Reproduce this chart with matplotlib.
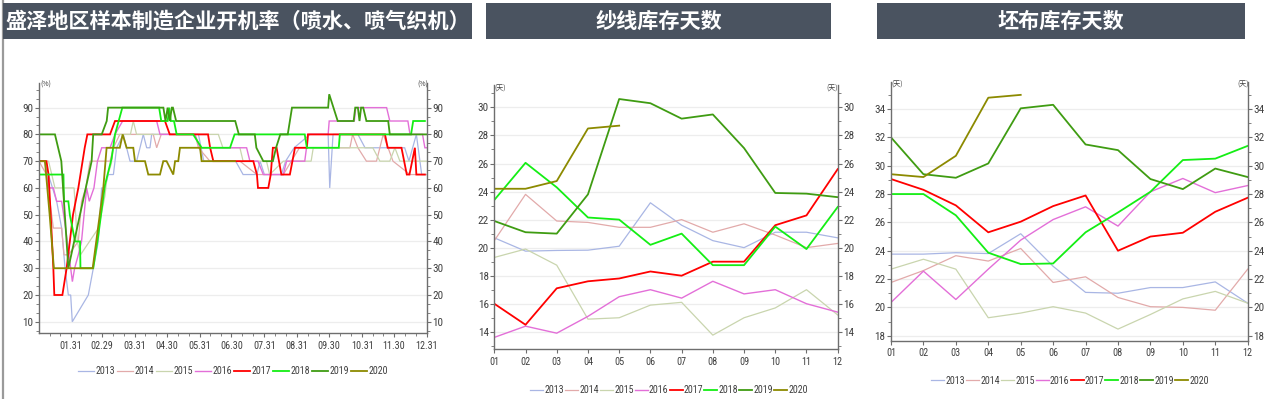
import matplotlib
matplotlib.use("Agg")
import matplotlib.pyplot as plt
import matplotlib.font_manager as fm
from matplotlib.patches import Rectangle
from matplotlib.lines import Line2D
from matplotlib.ticker import AutoMinorLocator, FixedLocator

# ---------------- data ----------------
years = ['2013', '2014', '2015', '2016', '2017', '2018', '2019', '2020']
colors = ['#a9b6e4', '#e2aaaa', '#c9d5ae', '#e36fd8', '#ff0000', '#14ee14', '#3f9c12', '#8c8a00']

# panel 1: operating rate (%), x = day of year (0 = Jan 1)
rate_days_2013 = [0, 5.6, 8.8, 16.6, 21.3, 24.5, 27.6, 29.8, 31.3, 46.4, 51.1, 55.8, 58.9, 62, 65.2, 70, 73, 79.3, 82.4, 85.6,
                  91.8, 95, 98.1, 101.3, 104.4, 106, 150, 155, 185, 192, 205, 208, 212, 228, 232, 240, 255, 272, 273.5,
                  276.6, 300, 306.7, 344, 348, 355, 360, 365]
rate_vals_2013 = [70, 70, 65, 55, 45, 30, 20, 20, 10, 20, 30, 40, 60, 60, 65, 65, 75, 80, 75, 70,
                  70, 75, 80, 75, 75, 80, 80, 70, 70, 65, 65, 70, 65, 65, 70, 75, 80, 80, 60,
                  80, 80, 75, 75, 70, 80, 65, 65]
rate_days_2014 = [0, 7, 13.5, 21.3, 23.5, 27.6, 37, 40, 44, 48, 66.8, 70, 76, 107.5, 110.7, 115, 146.7, 150, 160.8, 189,
                  205, 214, 229.8, 245, 292.5, 295, 300, 308, 317.5, 323.8, 333, 349, 365]
rate_vals_2014 = [70, 65, 45, 45, 35, 35, 40, 55, 60, 70, 70, 75, 80, 80, 75, 80, 80, 75, 70, 70,
                  65, 65, 65, 75, 75, 80, 75, 70, 70, 80, 70, 65, 65]
rate_days_2015 = [0, 9, 15, 33, 36, 39, 56, 62, 64, 68, 71.5, 86, 88.7, 91.8, 168.7, 173, 189, 192, 214, 217,
                  229.8, 256, 258, 314, 320.7, 330, 334.8, 339.5, 365]
rate_vals_2015 = [70, 70, 60, 60, 40, 35, 45, 57, 64, 69, 80, 80, 85, 80, 80, 75, 75, 70, 70, 65,
                  70, 70, 75, 75, 70, 70, 75, 70, 70]
rate_days_2016 = [0, 5.6, 8.8, 13.5, 16.6, 21.3, 25, 31.4, 33.5, 37, 40, 44.8, 47.3, 51.7, 55, 59, 66.8, 71.5, 78.7,
                  110.7, 113.8, 146.7, 151.4, 195.3, 198.4, 206, 211, 229.8, 232.9, 250, 253.3, 272, 273, 296.6,
                  298, 327, 330, 347, 349, 360.8, 363, 365]
rate_vals_2016 = [70, 70, 60, 60, 55, 55, 45, 25, 30, 35, 40, 60, 55, 60, 70, 75, 75, 80, 85,
                  85, 80, 80, 75, 75, 70, 70, 65, 65, 70, 70, 80, 80, 85, 85,
                  90, 90, 85, 85, 80, 80, 75, 75]
rate_days_2017 = [0, 7, 9, 11, 13.5, 14.4, 22, 26, 32, 37, 43, 45.5, 66.8, 71.5, 118.5, 123, 159, 161, 164, 201.6,
                  205, 206, 215.7, 218, 220, 223.5, 228, 236, 240.8, 252, 253, 325.5, 328, 341, 346, 348.5, 353.6,
                  355, 363]
rate_vals_2017 = [70, 70, 65, 50, 30, 20, 20, 30, 50, 60, 75, 80, 80, 85, 85, 80, 80, 75, 70, 70,
                  65, 60, 60, 65, 75, 75, 65, 65, 75, 75, 80, 80, 75, 75, 65, 65, 75,
                  65, 65]
rate_days_2018 = [0, 23, 23.5, 27.6, 29, 33.9, 38.6, 39, 51, 55.7, 62, 68.3, 71.5, 78.4, 113, 115, 121, 122.6, 124,
                  127, 129.5, 145, 153, 179.7, 184, 250, 252, 282, 283, 350, 352, 363]
rate_vals_2018 = [65, 65, 55, 55, 50, 40, 40, 30, 30, 42, 61, 71, 80, 90, 90, 85, 85, 90, 85,
                  85, 80, 80, 75, 75, 80, 80, 75, 75, 80, 80, 85, 85]
rate_days_2019 = [0, 15, 21, 27.6, 49.5, 51, 59, 63.7, 65, 117, 119, 121, 123, 125, 126, 129, 184.6, 188, 203, 204.5,
                  211, 220, 223, 227, 234, 238, 272, 273, 281, 296, 297.5, 300, 301.5, 303, 305, 308, 328.5, 330, 365]
rate_vals_2019 = [80, 80, 70, 30, 70, 80, 80, 85, 90, 90, 85, 90, 85, 90, 90, 85, 85, 80, 80, 75,
                  70, 70, 75, 80, 80, 90, 90, 95, 85, 85, 90, 90, 85, 90, 90, 85, 85, 80, 80]
rate_days_2020 = [0, 5.6, 10, 14, 50.5, 60.5, 63.6, 76, 78.7, 82.4, 88.7, 90.3, 99.7, 102.8, 113.8, 116.9, 120, 126.3,
                  128, 131, 132.6, 151.5, 153, 184.4]
rate_vals_2020 = [70, 70, 50, 30, 30, 60, 75, 75, 80, 75, 75, 70, 70, 65, 65, 70, 70, 65,
                  70, 70, 75, 75, 70, 70]

rate_tick_days = [30, 59, 90, 120, 151, 181, 212, 243, 273, 304, 334, 365]
rate_tick_labels = ['01.31', '02.29', '03.31', '04.30', '05.31', '06.30', '07.31', '08.31', '09.30', '10.31', '11.30', '12.31']

# panel 2 & 3: monthly inventory days
months = ['01', '02', '03', '04', '05', '06', '07', '08', '09', '10', '11', '12']
yarn_2013 = [20.7, 19.75, 19.8, 19.82, 20.1, 23.2, 21.6, 20.5, 20.0, 21.1, 21.1, 20.7]
yarn_2014 = [20.5, 23.8, 21.9, 21.8, 21.45, 21.45, 22.0, 21.1, 21.7, 20.9, 20.0, 20.3]
yarn_2015 = [19.3, 19.9, 18.75, 14.9, 15.0, 15.9, 16.1, 13.76, 15.0, 15.7, 17.0, 15.2]
yarn_2016 = [13.6, 14.4, 13.9, 15.1, 16.5, 17.0, 16.4, 17.6, 16.7, 17.0, 16.0, 15.4]
yarn_2017 = [16.0, 14.5, 17.1, 17.6, 17.8, 18.3, 18.0, 19.0, 19.0, 21.6, 22.3, 25.6]
yarn_2018 = [23.4, 26.05, 24.3, 22.15, 22.0, 20.2, 21.0, 18.75, 18.75, 21.5, 19.9, 22.9]
yarn_2019 = [21.9, 21.1, 21.0, 23.8, 30.6, 30.3, 29.2, 29.5, 27.1, 23.9, 23.85, 23.6]
yarn_2020 = [24.2, 24.2, 24.75, 28.5, 28.7]

fabric_2013 = [23.76, 23.76, 23.86, 23.8, 25.2, 22.9, 21.06, 21.0, 21.4, 21.4, 21.8, 20.3]
fabric_2014 = [21.76, 22.6, 23.65, 23.27, 24.16, 21.76, 22.16, 20.7, 20.05, 20.0, 19.8, 22.7]
fabric_2015 = [22.7, 23.4, 22.7, 19.27, 19.6, 20.05, 19.6, 18.47, 19.5, 20.6, 21.13, 20.3]
fabric_2016 = [20.35, 22.56, 20.56, 22.7, 24.75, 26.2, 27.1, 25.74, 28.16, 29.1, 28.1, 28.6]
fabric_2017 = [29.06, 28.3, 27.2, 25.3, 26.05, 27.15, 27.9, 24.0, 25.0, 25.27, 26.75, 27.74]
fabric_2018 = [28.0, 28.0, 26.5, 23.86, 23.06, 23.1, 25.3, 26.7, 28.16, 30.4, 30.5, 31.4]
fabric_2019 = [32.0, 29.4, 29.15, 30.16, 34.05, 34.3, 31.5, 31.1, 29.06, 28.35, 29.8, 29.2]
fabric_2020 = [29.4, 29.2, 30.7, 34.8, 35.0]

titles = ['盛泽地区样本制造企业开机率（喷水、喷气织机）', '纱线库存天数', '坯布库存天数']

# ---------------- fonts ----------------
ttf = fm.fontManager.ttflist
names = {f.name for f in ttf}
NUM_FONT, NARROW, STRETCH = 'Liberation Sans', False, 'normal'
for cand in ['Liberation Sans Narrow', 'Arial Narrow', 'DejaVu Sans Condensed', 'Roboto Condensed',
             'Open Sans Condensed', 'Noto Sans Condensed']:
    if cand in names:
        NUM_FONT, NARROW = cand, True
        break
if not NARROW:
    for f in ttf:
        if f.name == 'DejaVu Sans' and str(f.stretch) in ('condensed', 'semi-condensed', '500'):
            NUM_FONT, NARROW, STRETCH = 'DejaVu Sans', True, 'condensed'
            break
plt.rcParams['font.family'] = [NUM_FONT, 'DejaVu Sans']
plt.rcParams['font.stretch'] = STRETCH
CJK = ['Noto Sans CJK SC', 'DejaVu Sans']

W, H = 1265, 399
fig = plt.figure(figsize=(W / 100, H / 100), dpi=100)
fig.patch.set_facecolor('white')
renderer = fig.canvas.get_renderer()

def px_axes(l, r, t, b):
    return fig.add_axes([l / W, 1 - b / H, (r - l) / W, (b - t) / H])

widths = [0.9, 0.9, 0.9, 1.0, 1.3, 1.3, 1.3, 1.3]
SPINE = '#6e6e6e'
TXT = '#404040'
fs_y = 8.0 if NARROW else 6.9
fs_x = 7.3 if NARROW else 6.3
fs_leg = 7.2 if NARROW else 6.1

def style(ax, ylo, yhi, majors, minor_n):
    ax.spines['top'].set_visible(False)
    for s in ('left', 'right', 'bottom'):
        ax.spines[s].set_color(SPINE)
        ax.spines[s].set_linewidth(1.0)
    ax.set_ylim(ylo, yhi)
    ax.yaxis.set_major_locator(FixedLocator(majors))
    ax.yaxis.set_minor_locator(AutoMinorLocator(minor_n))
    ax.tick_params(axis='y', which='both', left=True, right=True, labelleft=True, labelright=True,
                   direction='out', color=SPINE, labelcolor=TXT, labelsize=fs_y, pad=1)
    ax.tick_params(axis='y', which='major', length=3, width=0.8)
    ax.tick_params(axis='y', which='minor', length=2, width=0.6)
    ax.tick_params(axis='x', which='both', direction='out', color=SPINE, labelcolor=TXT, labelsize=fs_x, pad=2.5)
    ax.tick_params(axis='x', which='major', length=3, width=0.8)
    ax.tick_params(axis='x', which='minor', length=2, width=0.6)
    ax.grid(axis='y', which='major', color='#ededed', lw=0.9)
    ax.set_axisbelow(True)
    ax.set_facecolor('white')

def unit(txt, l, r, y):
    fig.text(l / W, 1 - y / H, txt, fontsize=5, family=CJK, color=TXT, ha='left', va='center')
    fig.text(r / W, 1 - y / H, txt, fontsize=5, family=CJK, color=TXT, ha='right', va='center')

def legend(ax, handles, cx, cy, entry_px, handle_px):
    em = fs_leg * 100 / 72
    t = fig.text(0, 0, '2013', fontsize=fs_leg)
    tw = t.get_window_extent(renderer).width
    t.remove()
    pad = 0.12
    cs = max(0.1, (entry_px - handle_px - pad * em - tw) / em)
    ax.legend(handles, years, ncol=8, loc='center', bbox_to_anchor=(cx / W, 1 - cy / H),
              bbox_transform=fig.transFigure, frameon=False, fontsize=fs_leg, handlelength=handle_px / em,
              handletextpad=pad, columnspacing=cs, borderpad=0, borderaxespad=0, labelcolor=TXT)

# ---------------- panel 1 ----------------
ax1 = px_axes(39, 427, 83, 333)
rate_days = [rate_days_2013, rate_days_2014, rate_days_2015, rate_days_2016,
             rate_days_2017, rate_days_2018, rate_days_2019, rate_days_2020]
rate_vals = [rate_vals_2013, rate_vals_2014, rate_vals_2015, rate_vals_2016,
             rate_vals_2017, rate_vals_2018, rate_vals_2019, rate_vals_2020]
h1 = []
for d, v, c, lw in zip(rate_days, rate_vals, colors, widths):
    ln, = ax1.plot(d, v, color=c, lw=lw, solid_joinstyle='miter')
    h1.append(ln)
style(ax1, 5.8, 99.2, list(range(10, 100, 10)), 3)
ax1.set_xlim(0, 365)
ax1.xaxis.set_major_locator(FixedLocator(rate_tick_days))
ax1.set_xticklabels(rate_tick_labels)
starts = [0] + rate_tick_days[:-1]
minor_days = [s + (e - s) * k / 3 for s, e in zip(starts, rate_tick_days) for k in (1, 2)]
ax1.xaxis.set_minor_locator(FixedLocator(minor_days))
unit('(%)', 40, 428, 85)
legend(ax1, h1, 233, 371, 39, 16)

# ---------------- panel 2 ----------------
ax2 = px_axes(494.3, 837.7, 85, 349.3)
yarn = [yarn_2013, yarn_2014, yarn_2015, yarn_2016, yarn_2017, yarn_2018, yarn_2019, yarn_2020]
h2 = []
for v, c, lw in zip(yarn, colors, widths):
    x = list(range(1, len(v) + 1))
    ln, = ax2.plot(x, v, color=c, lw=lw)
    h2.append(ln)
style(ax2, 12.75, 31.6, list(range(14, 31, 2)), 2)
ax2.set_xlim(1, 12)
ax2.xaxis.set_major_locator(FixedLocator(list(range(1, 13))))
ax2.set_xticklabels(months)
unit('(天)', 494, 838, 89)
legend(ax2, h2, 669, 390, 32.5, 13)

# ---------------- panel 3 ----------------
ax3 = px_axes(891, 1247.7, 81.7, 340.7)
fabric = [fabric_2013, fabric_2014, fabric_2015, fabric_2016, fabric_2017, fabric_2018, fabric_2019, fabric_2020]
h3 = []
for v, c, lw in zip(fabric, colors, widths):
    x = list(range(1, len(v) + 1))
    ln, = ax3.plot(x, v, color=c, lw=lw)
    h3.append(ln)
style(ax3, 17.65, 35.93, list(range(18, 35, 2)), 2)
ax3.set_xlim(1, 12)
ax3.xaxis.set_major_locator(FixedLocator(list(range(1, 13))))
ax3.set_xticklabels(months)
unit('(天)', 891, 1249, 85)
legend(ax3, h3, 1070, 380.5, 34.5, 13)

# ---------------- banners ----------------
BANNER = '#4a5360'
banners = [(3, 472), (486, 831), (877, 1244.5)]
for (l, r), t in zip(banners, titles):
    fig.add_artist(Rectangle((l / W, 1 - 39.3 / H), (r - l) / W, 36 / H, transform=fig.transFigure,
                             facecolor=BANNER, edgecolor='none', zorder=5))
    fig.text((l + r) / 2 / W, 1 - 21.3 / H, t, family=CJK, fontsize=15.2, fontweight='bold',
             color='white', ha='center', va='center', zorder=6)

fig.add_artist(Line2D([3 / W, 3 / W], [0, 1], transform=fig.transFigure, color='#9a9a9a', lw=1.6, zorder=4))

fig.savefig('out.png', dpi=100, facecolor='white')
